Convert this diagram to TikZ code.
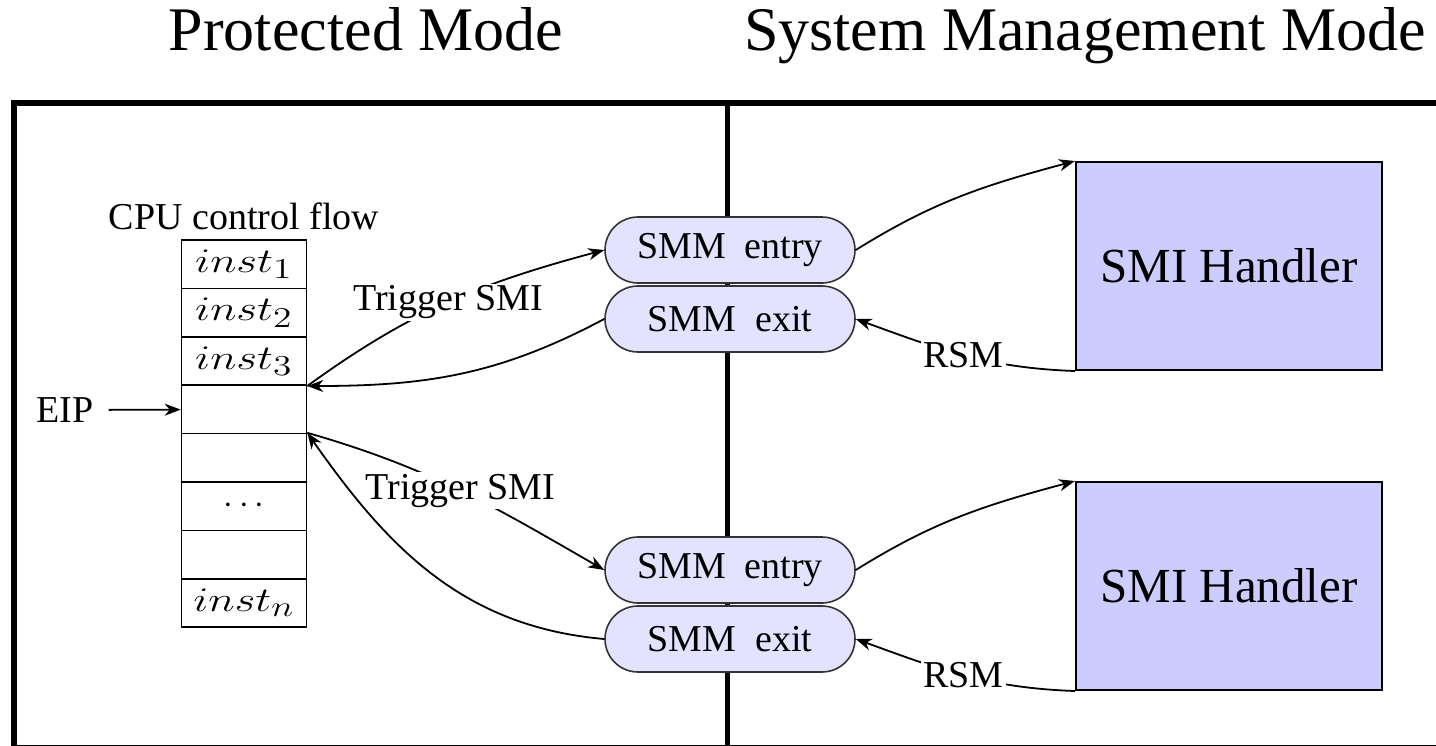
\documentclass[tikz,border=0pt]{standalone}
\usepackage[no-math]{fontspec}
\setmainfont{Liberation Serif}
\usetikzlibrary{arrows.meta,positioning}
\newcommand\instr[1]{\scalebox{1.3}[1]{$inst_{#1}$}}

\begin{document}
\begin{tikzpicture}[x=0.5pt,y=0.5pt,
  txt/.style={font=\fontsize{19}{23}\selectfont},
  cell/.style={draw,line width=0.8pt,minimum width=62.5pt,minimum height=24.2pt,inner sep=0pt,font=\fontsize{19}{23}\selectfont},
  smm/.style={draw=black!80,line width=0.8pt,fill=blue!11,rounded corners=16.5pt,minimum width=125pt,minimum height=33pt,font=\fontsize{19}{23}\selectfont},
  handler/.style={draw,line width=1pt,fill=blue!20,minimum width=153pt,minimum height=104pt,font=\fontsize{24.5}{29}\selectfont},
  lbl/.style={fill=white,inner sep=1pt,font=\fontsize{19}{23}\selectfont},
  arr/.style={-{Stealth[length=8pt,width=6pt,inset=2.5pt]},line width=0.9pt}]
\useasboundingbox (0,0) rectangle (1436,-745);

% frame and the two modes
\draw[line width=3pt] (14,-103) rectangle (1445,-747.5);
\draw[line width=2.5pt] (727,-103) -- (727,-747.5);
\node[font=\fontsize{31}{37}\selectfont, anchor=base] at (366,-50) {Protected Mode};
\node[font=\fontsize{31}{37}\selectfont, anchor=base] at (1085,-50) {System Management Mode};

% control flow
\foreach \lbl [count=\i] in {{\instr1},{\instr2},{\instr3},{},{},{$\cdots$},{},{\instr n}}
  \node[cell] (cell\i) at (244,{-(240+48.4*(\i-0.5))}) {\lbl};
\node[txt, above=1pt of cell1] {CPU control flow};
\node[txt] (eip) at (65,-410) {EIP};
\draw[arr, shorten <=4pt] (eip) -- (cell4);

% SMM entry / exit
\node[smm] (entry1) at (730,-250) {SMM\hspace{0.5em}entry};
\node[smm] (exit1) at (730,-319) {SMM\hspace{0.5em}exit};
\node[smm] (entry2) at (730,-570) {SMM\hspace{0.5em}entry};
\node[smm] (exit2) at (730,-639) {SMM\hspace{0.5em}exit};

% handlers
\node[handler] (hand1) at (1229,-266) {SMI Handler};
\node[handler] (hand2) at (1229,-586) {SMI Handler};

% first SMI
\draw[arr] (cell3.south east) to[out=36,in=195] node[lbl]{Trigger SMI} (entry1.west);
\draw[arr] (exit1.west) to[out=208,in=0] (cell3.south east);
\draw[arr] (entry1.east) to[out=32,in=195] (hand1.north west);
\draw[arr] (hand1.south west) to[out=178,in=-20] node[lbl]{RSM} (exit1.east);

% second SMI
\draw[arr] (cell5.north east) to[out=-16,in=150] node[lbl]{Trigger SMI} (entry2.west);
\draw[arr] (exit2.west) to[out=175,in=-55] (cell5.north east);
\draw[arr] (entry2.east) to[out=32,in=195] (hand2.north west);
\draw[arr] (hand2.south west) to[out=178,in=-20] node[lbl]{RSM} (exit2.east);
\end{tikzpicture}
\end{document}
